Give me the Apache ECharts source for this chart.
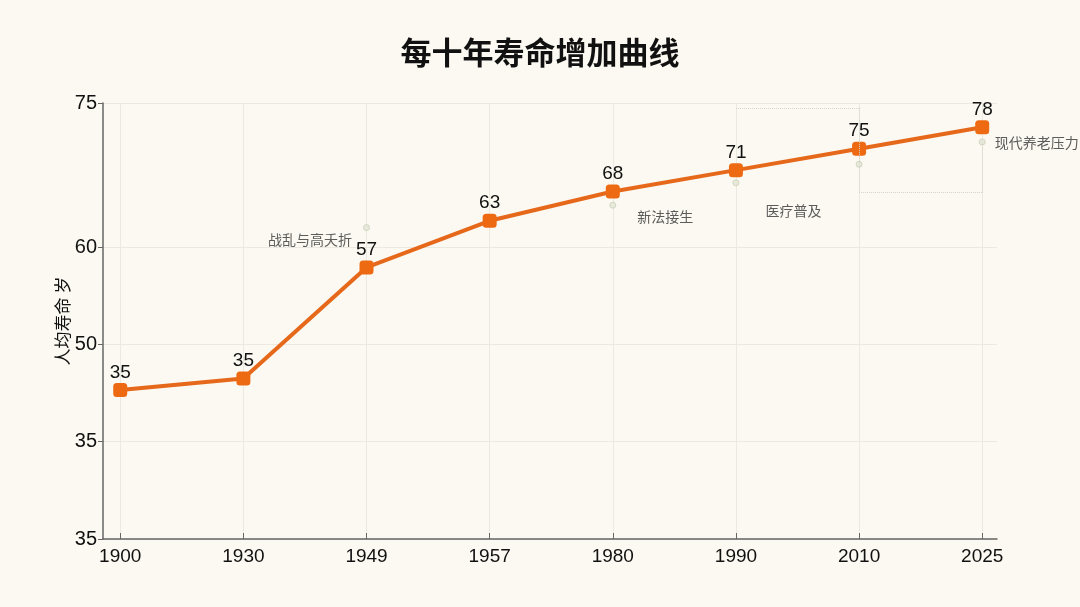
<!DOCTYPE html>
<html>
<head>
<meta charset="utf-8">
<title>每十年寿命增加曲线</title>
<script src="https://cdn.jsdelivr.net/npm/echarts@6.0.0/dist/echarts.min.js"></script>
<style>
    html, body { margin: 0; padding: 0; background: #fbf9f1; }
    #lineChart { width: 1080px; height: 607px; }
</style>
</head>
<body>
<div id="lineChart"></div>
<script>
// 年份
var years = ['1900', '1930', '1949', '1957', '1980', '1990', '2010', '2025'];
// 点上标的寿命
var lifeLabels = [35, 35, 57, 63, 68, 71, 75, 78];
// 点在纵轴上的高度（原图纵轴刻度不均，按刻度格读，一格记10）
var lifePos = [15.3, 16.5, 27.9, 32.7, 35.7, 37.9, 40.1, 42.3];
// 纵轴刻度位置和文字
var yTickPos = [0, 10, 20, 30, 44.8];
var yTickLabels = ['35', '35', '50', '60', '75'];
// 注释小点
var noteIndex = [2, 4, 5, 6, 7];
var notePos = [32.0, 34.3, 36.6, 38.5, 40.8];
var noteText = ['战乱与高夭折', '新法接生', '医疗普及', '', '现代养老压力'];
// 虚线框
var boxLines = [
    [[5, 44.3], [6, 44.3]],
    [[6, 44.3], [6, 35.6]],
    [[6, 35.6], [7, 35.6]],
    [[7, 35.6], [7, 40.8]]
];

var yearIdx = years.map(function (y, i) { return i; });

var noteLabelStyle = [
    { position: 'left', distance: 11, offset: [0, 12] },
    { position: 'right', distance: 21, offset: [0, 11] },
    { position: 'right', distance: 26, offset: [0, 28] },
    { show: false },
    { position: 'right', distance: 9, offset: [0, 1] }
];

var numFont = 'Arial, "Liberation Sans", sans-serif';

var myChart = echarts.init(document.getElementById('lineChart'));

var option = {
    backgroundColor: '#fbf9f1',
    textStyle: {
        fontFamily: '"Noto Sans CJK SC", "Noto Sans", sans-serif'
    },
    title: {
        text: '每十年寿命增加曲线',
        left: 'center',
        top: 32,
        textStyle: {
            fontSize: 31,
            fontWeight: 'bold',
            color: '#111'
        }
    },
    grid: {
        left: 103,
        right: 83,
        top: 103,
        bottom: 68,
        containLabel: false
    },
    xAxis: {
        type: 'value',
        min: -0.14,
        max: 7.12,
        axisLine: { onZero: false, lineStyle: { color: '#666', width: 1.5 } },
        axisTick: {
            inside: true,
            length: 6,
            customValues: yearIdx,
            lineStyle: { color: '#666' }
        },
        axisLabel: {
            customValues: yearIdx,
            margin: 8,
            fontSize: 19,
            color: '#111',
            fontFamily: numFont,
            formatter: function (v) {
                return years[Math.round(v)];
            }
        },
        splitLine: {
            show: true,
            lineStyle: { color: '#ebe9e0', width: 1 }
        }
    },
    yAxis: {
        type: 'value',
        min: 0,
        max: 44.8,
        name: '人均寿命 岁',
        nameLocation: 'middle',
        nameGap: 32,
        nameMoveOverlap: false,
        nameTextStyle: { fontSize: 17, color: '#111' },
        axisLine: { show: true, onZero: false, lineStyle: { color: '#666', width: 1.5 } },
        axisTick: {
            show: true,
            length: 5,
            customValues: yTickPos,
            lineStyle: { color: '#666' }
        },
        axisLabel: {
            customValues: yTickPos,
            margin: 6,
            fontSize: 20,
            color: '#111',
            fontFamily: numFont,
            formatter: function (v) {
                var k = yTickPos.indexOf(v);
                return k >= 0 ? yTickLabels[k] : '';
            }
        },
        splitLine: {
            show: true,
            lineStyle: { color: '#ebe9e0', width: 1 }
        }
    },
    series: [{
        // 注释点和虚线框
        type: 'scatter',
        symbol: 'circle',
        symbolSize: 6,
        z: 1,
        itemStyle: {
            color: '#e3e6d6',
            borderColor: '#c9cfb9',
            borderWidth: 1
        },
        label: {
            show: true,
            fontSize: 14,
            color: '#333',
            formatter: function (p) { return noteText[p.dataIndex]; }
        },
        data: noteIndex.map(function (x, i) {
            return {
                value: [x, notePos[i]],
                label: noteLabelStyle[i]
            };
        }),
        markLine: {
            silent: true,
            symbol: 'none',
            label: { show: false },
            lineStyle: { color: '#d4d4cc', type: 'dotted', width: 1 },
            data: boxLines.map(function (seg) {
                return [{ coord: seg[0] }, { coord: seg[1] }];
            })
        }
    }, {
        type: 'line',
        z: 3,
        symbol: 'roundRect',
        symbolSize: 14,
        label: {
            show: true,
            position: 'top',
            distance: 1,
            fontSize: 19,
            color: '#111',
            fontFamily: numFont,
            formatter: function (p) { return lifeLabels[p.dataIndex]; }
        },
        itemStyle: { color: '#ee6a12' },
        lineStyle: { color: '#e6681b', width: 4 },
        data: yearIdx.map(function (x, i) { return [x, lifePos[i]]; })
    }]
};
myChart.setOption(option, true);
</script>
</body>
</html>
